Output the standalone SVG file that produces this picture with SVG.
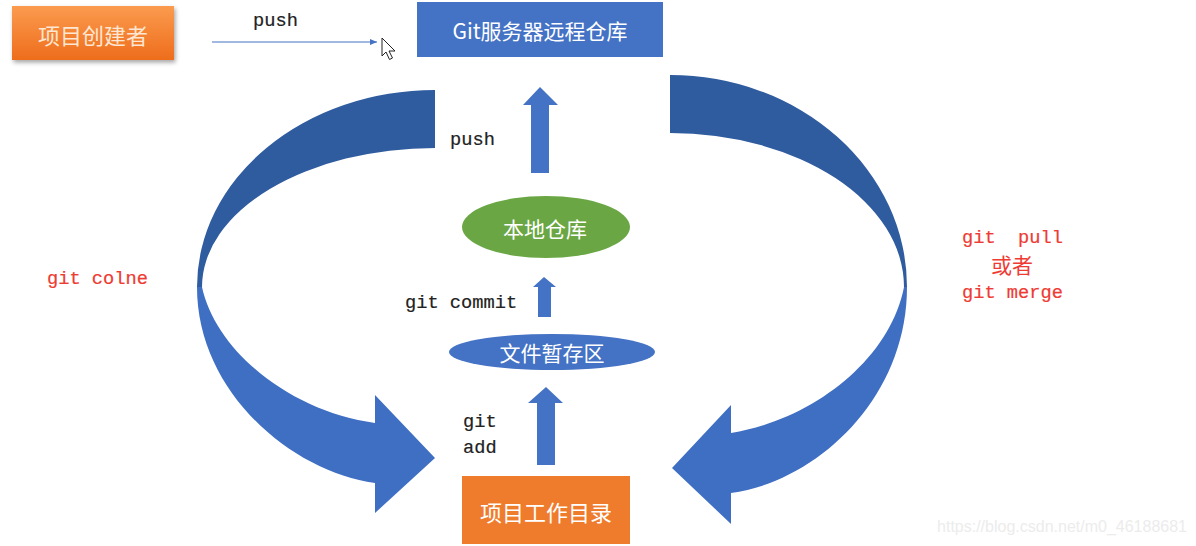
<svg xmlns="http://www.w3.org/2000/svg" width="1196" height="546" viewBox="0 0 1196 546">
<style>
.cjk{font-family:"Noto Sans CJK SC","Noto Sans",sans-serif;fill:#ffffff;text-anchor:middle;dominant-baseline:central}
.mono{font-family:"Liberation Mono","Courier New",monospace;font-size:18.7px;fill:#222222;stroke:#222222;stroke-width:0.2}
.red{fill:#ee3b33;stroke:#ee3b33}
.dark{fill:#2f5b9f}
.light{fill:#3f6fc3}
.blk{fill:#4472c4}
</style>
<defs>
<linearGradient id="og" x1="0" y1="0" x2="0" y2="1">
<stop offset="0" stop-color="#fb9b4e"/>
<stop offset="1" stop-color="#ee6d1c"/>
</linearGradient>
<filter id="sh" x="-10%" y="-20%" width="125%" height="150%">
<feDropShadow dx="1.5" dy="2.5" stdDeviation="2" flood-color="#000" flood-opacity="0.35"/>
</filter>
<marker id="ah" markerWidth="8" markerHeight="8" refX="7" refY="4" orient="auto" markerUnits="userSpaceOnUse">
<path d="M0,1 L7,4 L0,7 Z" fill="#4472c4"/>
</marker>
</defs>
<rect width="1196" height="546" fill="#ffffff"/>

<g id="connectors">
<!-- push from creator -->
<line x1="212" y1="42" x2="377" y2="42" stroke="#4472c4" stroke-width="1.2" marker-end="url(#ah)"/>
<!-- left curved arrow (git clone) -->
<path class="dark" d="M435,90 A238,197 0 0 0 197,287 L202,287 A233,139 0 0 1 435,148 Z"/>
<path class="light" d="M197,287 C197,392 292,472 375,483 L375,513 L435,458 L375,395 L375,423 C292,412 216,352 202,287 Z"/>
<!-- right curved arrow (git pull / merge) -->
<path class="dark" d="M670,75 A237,212 0 0 1 907,287 L904,287 A234,154 0 0 0 670,133 Z"/>
<path class="light" d="M907,287 C907,400 815,482 731,493 L731,524 L672,468 L731,405 L731,433 C812,420 890,360 904,287 Z"/>
<!-- block up arrows -->
<path class="blk" d="M531,173 L531,105 L523,105 L540,87 L558,105 L549,105 L549,173 Z"/>
<path class="blk" d="M538,317 L538,287 L533,287 L544,277 L556,287 L551,287 L551,317 Z"/>
<path class="blk" d="M537,465 L537,403 L528,403 L546,387 L563,403 L555,403 L555,465 Z"/>
<!-- labels -->
<text class="mono" x="253" y="26">push</text>
<text class="mono" x="450" y="145">push</text>
<text class="mono" x="405" y="308">git commit</text>
<text class="mono" x="463" y="427">git</text>
<text class="mono" x="463" y="453">add</text>
<text class="mono red" x="47" y="284">git colne</text>
<text class="mono red" x="962" y="243" xml:space="preserve">git  pull</text>
<text class="cjk" x="1012" y="264" style="fill:#ee3b33;font-size:21px">或者</text>
<text class="mono red" x="962" y="298">git merge</text>
</g>

<g id="creator">
<rect x="12" y="6" width="162" height="54" fill="url(#og)" filter="url(#sh)"/>
<text class="cjk" x="93" y="34" style="font-size:22px;fill:#fde6d2">项目创建者</text>
</g>

<g id="remote">
<rect x="417" y="2" width="246" height="55" fill="#4472c4"/>
<text class="cjk" x="540" y="30" style="font-size:21px">Git服务器远程仓库</text>
</g>

<g id="local">
<ellipse cx="546" cy="227" rx="84" ry="31" fill="#6aa744"/>
<text class="cjk" x="545" y="228" style="font-size:21px">本地仓库</text>
</g>

<g id="stage">
<ellipse cx="552" cy="352" rx="103" ry="18" fill="#4472c4"/>
<text class="cjk" x="552" y="352" style="font-size:21px">文件暂存区</text>
</g>

<g id="workdir">
<rect x="462" y="476" width="168" height="68" fill="#ef7b2c"/>
<text class="cjk" x="546" y="511" style="font-size:22px">项目工作目录</text>
</g>

<g id="cursor">
<path d="M382,38 L382,56 L386,52 L389.5,59.5 L392.5,58 L389,51 L395,51 Z" fill="#ffffff" stroke="#222222" stroke-width="1" stroke-linejoin="round"/>
</g>

<text x="1187" y="532" text-anchor="end" style="font-family:'Liberation Sans',Arial,sans-serif;font-size:16px;fill:#ececec">https://blog.csdn.net/m0_46188681</text>
</svg>
